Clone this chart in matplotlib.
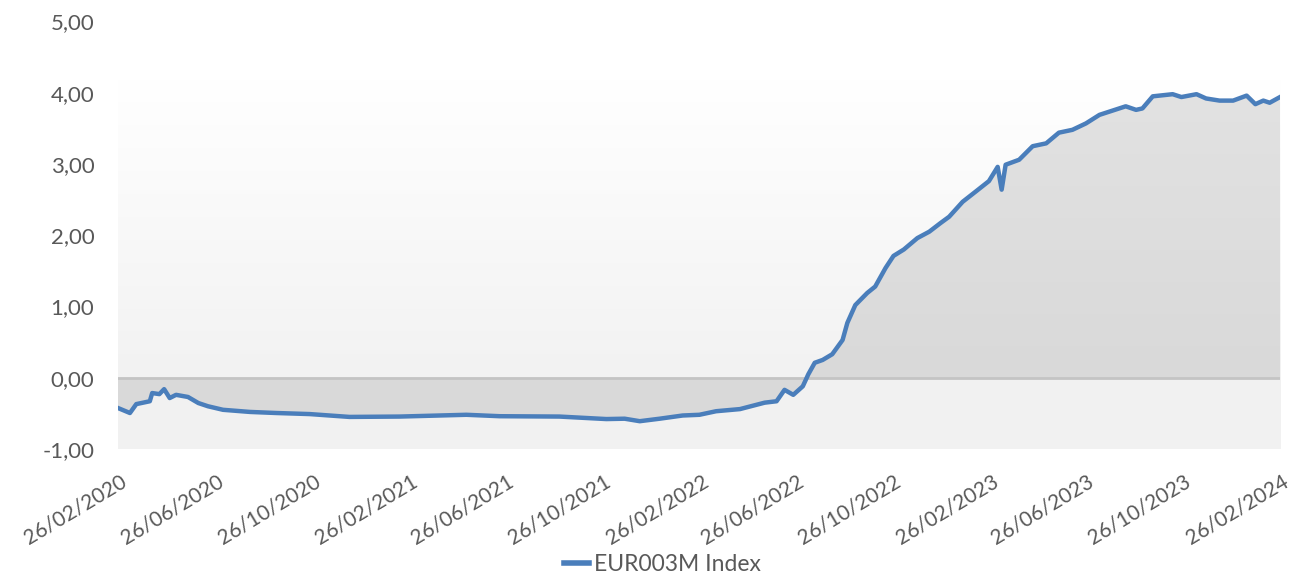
import numpy as np
import pandas as pd
import matplotlib
matplotlib.use('Agg')
import matplotlib.pyplot as plt
import matplotlib.dates as mdates
from matplotlib.lines import Line2D
from matplotlib.transforms import ScaledTranslation

plt.rcParams['font.family'] = ['Lato', 'DejaVu Sans']

# EUR003M Index, values
dates = ['2020-02-26', '2020-03-12', '2020-03-20', '2020-04-06', '2020-04-09',
         '2020-04-18', '2020-04-24', '2020-05-01', '2020-05-09', '2020-05-24',
         '2020-06-06', '2020-06-18', '2020-07-07', '2020-08-10', '2020-09-12',
         '2020-10-24', '2020-12-13', '2021-02-14', '2021-05-09', '2021-06-20',
         '2021-09-03', '2021-11-01', '2021-11-24', '2021-12-13', '2022-01-07',
         '2022-02-05', '2022-02-26', '2022-03-19', '2022-04-18', '2022-05-19',
         '2022-06-03', '2022-06-13', '2022-06-24', '2022-07-06', '2022-07-13',
         '2022-07-21', '2022-07-31', '2022-08-12', '2022-08-25', '2022-08-31',
         '2022-09-10', '2022-09-25', '2022-10-05', '2022-10-18', '2022-10-28',
         '2022-11-10', '2022-11-27', '2022-12-12', '2022-12-26', '2023-01-06',
         '2023-01-23', '2023-02-08', '2023-02-25', '2023-03-08', '2023-03-13',
         '2023-03-18', '2023-04-04', '2023-04-21', '2023-05-08', '2023-05-24',
         '2023-06-10', '2023-06-27', '2023-07-14', '2023-08-16', '2023-08-29',
         '2023-09-06', '2023-09-19', '2023-10-14', '2023-10-25', '2023-11-13',
         '2023-11-25', '2023-12-12', '2023-12-29', '2024-01-15', '2024-01-26',
         '2024-02-05', '2024-02-13', '2024-02-26']
values = [-0.425, -0.495, -0.37, -0.33, -0.215,
          -0.23, -0.16, -0.285, -0.24, -0.27,
          -0.355, -0.40, -0.45, -0.48, -0.495,
          -0.51, -0.55, -0.545, -0.52, -0.54,
          -0.545, -0.58, -0.575, -0.61, -0.575,
          -0.53, -0.52, -0.47, -0.44, -0.35,
          -0.33, -0.17, -0.24, -0.12, 0.05,
          0.21, 0.25, 0.33, 0.53, 0.77,
          1.02, 1.19, 1.28, 1.54, 1.71,
          1.80, 1.96, 2.05, 2.17, 2.26,
          2.47, 2.61, 2.76, 2.96, 2.64,
          2.99, 3.06, 3.25, 3.29, 3.44,
          3.48, 3.57, 3.69, 3.81, 3.76,
          3.78, 3.95, 3.98, 3.94, 3.98,
          3.92, 3.89, 3.89, 3.96, 3.84,
          3.89, 3.86, 3.94]
series_name = 'EUR003M Index'
y_ticks = [-1, 0, 1, 2, 3, 4, 5]

x = mdates.date2num(pd.to_datetime(dates))
y = np.array(values)
x0, x1 = x[0], x[-1]

fig = plt.figure(figsize=(12.91, 5.74), dpi=100)
ax = fig.add_axes([0.0914, 0.2178, 0.9001, 0.7447])

# plot area background: light grey at bottom fading to white at top
bg = np.linspace(0, 1, 256)
bg_col = np.where(bg < 0.193, 0.949, 0.949 + (1.0 - 0.949) * (bg - 0.193) / 0.807)
ax.imshow(np.dstack([bg_col] * 3).reshape(256, 1, 3), origin='lower',
          extent=[x0, x1, -1, 4.18], aspect='auto', zorder=0)

# area between series and zero
poly = ax.fill_between(x, y, 0, color='none', zorder=1)
g = np.linspace(0, 1, 256)
g_col = np.where(g < 0.2, 0.851, 0.851 + 0.035 * (g - 0.2) / 0.8)
im = ax.imshow(np.dstack([g_col] * 3).reshape(256, 1, 3), origin='lower',
               extent=[x0, x1, -1, 4.0], aspect='auto', zorder=1)
im.set_clip_path(poly.get_paths()[0], transform=ax.transData)

ax.axhline(0, color='#C4C4C4', lw=2, zorder=2)
ax.plot(x, y, color='#4A7EBB', lw=3.2, solid_joinstyle='round', zorder=3)

ax.set_xlim(x0, x1)
ax.set_ylim(-1, 5)
ax.set_yticks(y_ticks)
ax.set_yticklabels([f'{v:.2f}'.replace('.', ',') for v in y_ticks])

tick_dates = pd.date_range('2020-02-26', periods=13, freq=pd.DateOffset(months=4))
ax.set_xticks(mdates.date2num(tick_dates))
ax.set_xticklabels([d.strftime('%d/%m/%Y') for d in tick_dates],
                   rotation=31, ha='right', va='top', rotation_mode='anchor')

ax.tick_params(axis='both', length=0, labelsize=16, colors='#595959')
ax.tick_params(axis='x', labelsize=15, pad=16)
ax.tick_params(axis='y', pad=17)
for lbl in ax.get_xticklabels():
    lbl.set_transform(lbl.get_transform() + ScaledTranslation(0.02, 0, fig.dpi_scale_trans))
for s in ax.spines.values():
    s.set_visible(False)

handle = Line2D([0], [0], color='#4A7EBB', lw=4)
fig.legend([handle], [series_name], loc='lower center', bbox_to_anchor=(0.513, -0.038),
           frameon=False, fontsize=16.5, handlelength=1.1, handletextpad=0.2,
           labelcolor='#595959')

fig.savefig('out.png', dpi=100)
